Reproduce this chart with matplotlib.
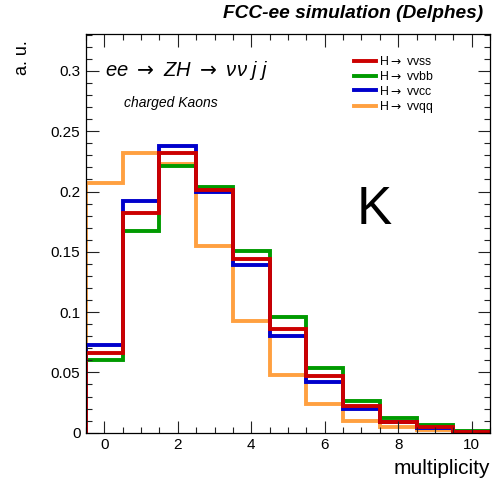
import numpy as np
import matplotlib
matplotlib.use('Agg')
import matplotlib.pyplot as plt
from matplotlib.ticker import MultipleLocator

plt.rcParams['font.family'] = ['Liberation Sans', 'DejaVu Sans']

# --- Kaon multiplicity per jet, normalised (one entry per bin 0..10) ---
multiplicity = np.arange(0, 11)
h_vvss = [0.066, 0.182, 0.232, 0.201, 0.144, 0.086, 0.047, 0.022, 0.0092, 0.005, 0.001]
h_vvbb = [0.060, 0.167, 0.221, 0.204, 0.151, 0.096, 0.054, 0.026, 0.012, 0.006, 0.0015]
h_vvcc = [0.0725, 0.192, 0.238, 0.200, 0.139, 0.080, 0.042, 0.0195, 0.0085, 0.004, 0.001]
h_vvqq = [0.207, 0.232, 0.223, 0.155, 0.093, 0.0475, 0.0236, 0.0094, 0.0044, 0.0022, 0.0006]

labels = ['H$\\rightarrow$ vvss', 'H$\\rightarrow$ vvbb', 'H$\\rightarrow$ vvcc', 'H$\\rightarrow$ vvqq']
yticks = [0, 0.05, 0.1, 0.15, 0.2, 0.25, 0.3]
ytick_labels = ['0', '0.05', '0.1', '0.15', '0.2', '0.25', '0.3']

edges = np.append(multiplicity - 0.5, multiplicity[-1] + 0.5)

fig = plt.figure(figsize=(4.94, 4.83), dpi=100)
ax = fig.add_axes([0.1741, 0.1041, 0.8178, 0.8255])

lw = 2.8
hists = [
    (h_vvqq, '#ffa040', labels[3]),
    (h_vvbb, '#009a00', labels[1]),
    (h_vvcc, '#0000cc', labels[2]),
    (h_vvss, '#cc0000', labels[0]),
]
handles = {}
for vals, col, lab in hists:
    ax.stairs(vals, edges, color=col, lw=lw, baseline=0)
    handles[lab] = plt.Line2D([], [], color=col, lw=lw)

ax.set_xlim(-0.5, 10.5)
ax.set_ylim(0, 0.3306)

# ROOT-style ticks: inside, on all four sides
ax.xaxis.set_major_locator(MultipleLocator(2))
ax.xaxis.set_minor_locator(MultipleLocator(0.5))
ax.set_yticks(yticks)
ax.set_yticklabels(ytick_labels)
ax.yaxis.set_minor_locator(MultipleLocator(0.01))
ax.tick_params(which='both', direction='in', top=True, right=True,
               labelsize=11, width=0.8, color='#222222')
ax.tick_params(which='major', length=9, pad=4)
ax.tick_params(which='minor', length=4.5)
for sp in ax.spines.values():
    sp.set_linewidth(0.9)

ax.set_ylabel('a. u.', fontsize=13, ha='right', va='center')
ax.yaxis.set_label_coords(-0.158, 0.985)
ax.set_xlabel('multiplicity', fontsize=15, loc='right', labelpad=5)

fig.text(0.978, 0.973, 'FCC-ee simulation (Delphes)', ha='right', va='center',
         fontsize=13.8, fontweight='bold', fontstyle='italic')

ax.text(0.047, 0.908, 'ee $\\rightarrow$ ZH $\\rightarrow$ \u03bd\u03bd j j', transform=ax.transAxes,
        fontsize=14.5, fontstyle='italic', va='center')
ax.text(0.095, 0.826, 'charged Kaons', transform=ax.transAxes,
        fontsize=10, fontstyle='italic', va='center')
ax.text(0.714, 0.558, 'K', transform=ax.transAxes, fontsize=38, ha='center', va='center')

ax.legend([handles[l] for l in labels], labels, loc='upper left',
          bbox_to_anchor=(0.649, 0.962), frameon=False, fontsize=8.8,
          handlelength=1.75, handletextpad=0.28, labelspacing=0.14, borderpad=0)

fig.savefig('out.png', dpi=100)
